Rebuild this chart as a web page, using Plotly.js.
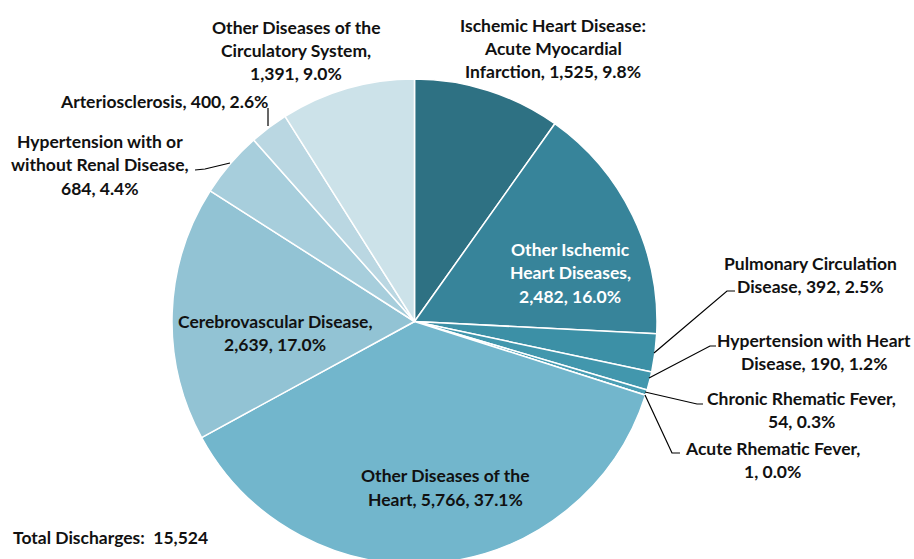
<!DOCTYPE html>
<html>
<head>
<meta charset="utf-8">
<script src="https://cdn.plot.ly/plotly-3.0.1.min.js"></script>
<style>
html,body{margin:0;padding:0;overflow:hidden;background:#fff;width:914px;height:559px;}
#chart{width:914px;height:570px;}
</style>
</head>
<body>
<div id="chart"></div>
<script>
// ---- data ----
const categories = [
  "Ischemic Heart Disease: Acute Myocardial Infarction",
  "Other Ischemic Heart Diseases",
  "Pulmonary Circulation Disease",
  "Hypertension with Heart Disease",
  "Chronic Rhematic Fever",
  "Acute Rhematic Fever",
  "Other Diseases of the Heart",
  "Cerebrovascular Disease",
  "Hypertension with or without Renal Disease",
  "Arteriosclerosis",
  "Other Diseases of the Circulatory System"
];
const values = [1525, 2482, 392, 190, 54, 1, 5766, 2639, 684, 400, 1391];
const labelNames = [
  ["Ischemic Heart Disease:", "Acute Myocardial", "Infarction"],
  ["Other Ischemic", "Heart Diseases"],
  ["Pulmonary Circulation", "Disease"],
  ["Hypertension with Heart", "Disease"],
  ["Chronic Rhematic Fever"],
  ["Acute Rhematic Fever"],
  ["Other Diseases of the", "Heart"],
  ["Cerebrovascular Disease"],
  ["Hypertension with or", "without Renal Disease"],
  ["Arteriosclerosis"],
  ["Other Diseases of the", "Circulatory System"]
];
// whether the value/percent goes on its own line
const valueOnNewLine = [false, true, false, false, true, true, false, true, true, false, true];
const totalLabel = "Total Discharges:";

// ---- styles / layout ----
const colors = ["#2E7183", "#37849A", "#3C90A6", "#4297AD", "#4A9EB4", "#4FA3B8",
                "#72B6CC", "#92C3D4", "#A7CEDC", "#BAD7E2", "#CCE2E9"];
const textColors = ["#111", "#fff", "#111", "#111", "#111", "#111", "#111", "#111", "#111", "#111", "#111"];
const W = 914, H = 570;
const px = x => x / W;
const py = y => (H - y) / H;
// label anchor: [center x, first line y] in pixels
const labelPos = [[553, 25], [570, 249], [810, 263], [814, 340], [801, 398], [772, 448],
                  [445, 476], [275, 321], [100, 141], [164, 101], [296, 27]];
const lineGap = 23.5;
// leader line paths in pixels
const leaders = [
  null, null,
  [[654, 353], [727, 291], [735, 291]],
  [[649, 378], [710, 346], [716, 346]],
  [[645, 392], [697, 404], [703, 404]],
  [[645, 395], [672, 453], [680, 453]],
  null, null,
  [[230, 163], [205, 169], [195, 170]],
  [[268, 126], [268, 108]],
  null
];

const total = values.reduce((a, b) => a + b, 0);
const fmt = v => v.toLocaleString("en-US");
const FONT = "Lato, 'Open Sans', sans-serif";
const FSIZE = 17.5;

const annotations = [];
values.forEach((v, i) => {
  const pct = (v / total * 100).toFixed(1) + "%";
  const numTxt = fmt(v) + ", " + pct;
  let lines = labelNames[i].slice();
  if (valueOnNewLine[i]) {
    lines[lines.length - 1] += ",";
    lines.push(numTxt);
  } else {
    lines[lines.length - 1] += ", " + numTxt;
  }
  lines.forEach((ln, k) => {
    annotations.push({
      x: px(labelPos[i][0]), y: py(labelPos[i][1] + k * lineGap),
      xref: "paper", yref: "paper", xanchor: "center", yanchor: "middle",
      showarrow: false, text: ln,
      font: {family: FONT, size: FSIZE, color: textColors[i], weight: "bold"}
    });
  });
});
annotations.push({
  x: px(11), y: py(537), xref: "paper", yref: "paper", xanchor: "left", yanchor: "middle",
  showarrow: false, text: totalLabel + "&nbsp;&nbsp;" + fmt(total),
  font: {family: FONT, size: FSIZE, color: "#111", weight: "bold"}
});

const shapes = [];
leaders.forEach(pts => {
  if (!pts) return;
  const d = pts.map((p, k) => (k ? "L" : "M") + px(p[0]).toFixed(5) + "," + py(p[1]).toFixed(5)).join(" ");
  shapes.push({type: "path", xref: "paper", yref: "paper", path: d,
               line: {color: "#000", width: 1.2}});
});

const trace = {
  type: "pie",
  labels: categories,
  values: values,
  sort: false,
  direction: "clockwise",
  rotation: 0,
  marker: {colors: colors, line: {color: "#fff", width: 1.5}},
  textinfo: "none",
  hoverinfo: "label+value+percent",
  domain: {x: [px(172), px(657)], y: [py(564), py(79)]},
  showlegend: false
};

const layout = {
  width: W, height: H,
  margin: {l: 0, r: 0, t: 0, b: 0},
  paper_bgcolor: "#fff",
  showlegend: false,
  annotations: annotations,
  shapes: shapes
};

Plotly.newPlot("chart", [trace], layout, {displayModeBar: false, staticPlot: true});
</script>
</body>
</html>
